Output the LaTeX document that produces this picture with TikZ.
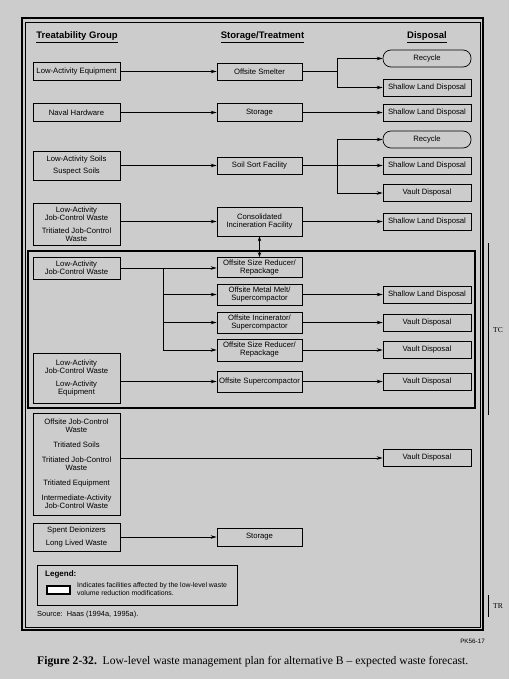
\documentclass[tikz,border=0pt]{standalone}
\usepackage{fontspec}
\usetikzlibrary{arrows.meta}
\newfontfamily\dgfont{Liberation Sans}
\newfontfamily\capfont{Liberation Serif}
\definecolor{paper}{gray}{0.80}
\begin{document}
\begin{tikzpicture}[x=1pt,y=-1pt,
  box/.style={draw=black, line width=0.7pt, inner sep=0pt, align=center,
    font=\dgfont\fontsize{7.7}{8}\selectfont},
  lbox/.style={box, minimum width=87pt},
  mbox/.style={box, minimum width=85pt},
  rbox/.style={box, minimum width=88pt, minimum height=17pt},
  rnd/.style={rbox, rounded corners=8pt},
  hdr/.style={font=\dgfont\bfseries\fontsize{9.5}{10}\selectfont, inner sep=1pt},
  arr/.style={line width=0.7pt, -{Stealth[length=6pt,width=3.5pt]}},
  arrtwo/.style={line width=0.7pt, {Stealth[length=5pt,width=3.5pt]}-{Stealth[length=5pt,width=3.5pt]}},
  ln/.style={line width=0.7pt}
]
\useasboundingbox (0,0) rectangle (509,679);
\fill[paper] (0,0) rectangle (509,679);

% outer frame
\draw[line width=1.3pt] (22,18) rectangle (483,630);
\draw[line width=0.5pt] (25,22) rectangle (480,627);

% change bars
\draw[line width=0.8pt] (488,243) -- (488,415);
\node[font=\capfont\fontsize{7.5}{8}\selectfont, inner sep=0pt] (tc) at (498,330) {TC};
\draw[line width=0.8pt] (488,595) -- (488,617);
\node[font=\capfont\fontsize{7.5}{8}\selectfont, inner sep=0pt] (tr) at (498,606) {TR};

% headers
\node[hdr] (h1) at (77,37) {\underline{Treatability Group}};
\node[hdr] (h2) at (262.5,37) {\underline{Storage/Treatment}};
\node[hdr] (h3) at (427,37) {\underline{Disposal}};

% thick box
\draw[line width=2.2pt] (28,251) rectangle (475,408);

% left column
\node[lbox, minimum height=18pt] (L1) at (76.5,71.5) {Low-Activity Equipment};
\node[lbox, minimum height=18pt] (L2) at (76.5,112.5) {Naval Hardware};
\node[lbox, minimum height=29pt] (L3) at (76.5,165.5) {Low-Activity Soils\\[4pt]Suspect Soils};
\node[lbox, minimum height=42pt] (L4) at (76.5,224) {Low-Activity\\Job-Control Waste\\[5pt]Tritiated Job-Control\\Waste};
\node[lbox, minimum height=22pt] (L5) at (76.5,268) {Low-Activity\\Job-Control Waste};
\node[lbox, minimum height=50pt] (L6) at (76.5,378) {Low-Activity\\Job-Control Waste\\[5pt]Low-Activity\\Equipment};
\node[lbox, minimum height=102pt] (L7) at (76.5,464) {Offsite Job-Control\\Waste\\[7pt]Tritiated Soils\\[7pt]Tritiated Job-Control\\Waste\\[7pt]Tritiated Equipment\\[7pt]Intermediate-Activity\\Job-Control Waste};
\node[lbox, minimum height=28pt] (L8) at (76.5,537) {Spent Deionizers\\[5pt]Long Lived Waste};

% middle column
\node[mbox, minimum height=17pt] (M1) at (259.5,71.5) {Offsite Smelter};
\node[mbox, minimum height=18pt] (M2) at (259.5,112.5) {Storage};
\node[mbox, minimum height=17pt] (M3) at (259.5,165.5) {Soil Sort Facility};
\node[mbox, minimum height=29pt] (M4) at (259.5,221.5) {Consolidated\\Incineration Facility};
\node[mbox, minimum height=20pt] (M5) at (259.5,267.5) {Offsite Size Reducer/\\Repackage};
\node[mbox, minimum height=21pt] (M6) at (259.5,294.5) {Offsite Metal Melt/\\Supercompactor};
\node[mbox, minimum height=21pt] (M7) at (259.5,322.5) {Offsite Incinerator/\\Supercompactor};
\node[mbox, minimum height=22pt] (M8) at (259.5,350) {Offsite Size Reducer/\\Repackage};
\node[mbox, minimum height=21pt] (M9) at (259.5,381.5) {Offsite Supercompactor};
\node[mbox, minimum height=18pt] (M10) at (259.5,537) {Storage};

% right column
\node[rnd] (R1) at (427,58.5) {Recycle};
\node[rbox] (R2) at (427,87.5) {Shallow Land Disposal};
\node[rbox] (R3) at (427,112.5) {Shallow Land Disposal};
\node[rnd] (R4) at (427,139.5) {Recycle};
\node[rbox] (R5) at (427,165.5) {Shallow Land Disposal};
\node[rbox] (R6) at (427,193) {Vault Disposal};
\node[rbox] (R7) at (427,221.5) {Shallow Land Disposal};
\node[rbox] (R8) at (427,294.5) {Shallow Land Disposal};
\node[rbox] (R9) at (427,322.5) {Vault Disposal};
\node[rbox] (R10) at (427,350) {Vault Disposal};
\node[rbox] (R11) at (427,381.5) {Vault Disposal};
\node[rbox] (R12) at (427,458) {Vault Disposal};

% junction coordinates
\coordinate (j1) at (337,71.5);
\coordinate (j2) at (337,165.5);
\coordinate (j3) at (163,268);

% connectors
\draw[arr] (L1.east) -- (M1.west);
\draw[ln] (M1.east) -- (j1);
\draw[arr] (j1) |- (R1.west);
\draw[arr] (j1) |- (R2.west);

\draw[arr] (L2.east) -- (M2.west);
\draw[arr] (M2.east) -- (R3.west);

\draw[arr] (L3.east) -- (M3.west);
\draw[arr] (M3.east) -- (R5.west);
\draw[arr] (j2) |- (R4.west);
\draw[arr] (j2) |- (R6.west);

\draw[arr] (L4.east |- M4.west) -- (M4.west);
\draw[arr] (M4.east) -- (R7.west);
\draw[arrtwo] (M4.south) -- (M5.north);

\draw[arr] (L5.east) -- (L5.east -| M5.west);
\draw[arr] (j3) |- (M6.west);
\draw[arr] (j3) |- (M7.west);
\draw[arr] (j3) |- (M8.west);

\draw[arr] (M6.east) -- (R8.west);
\draw[arr] (M7.east) -- (R9.west);
\draw[arr] (M8.east) -- (R10.west);
\draw[arr] (L6.east |- M9.west) -- (M9.west);
\draw[arr] (M9.east) -- (R11.west);

\draw[arr] (L7.east |- R12.west) -- (R12.west);
\draw[arr] (L8.east) -- (M10.west);

% legend
\draw[line width=0.6pt] (37,565) rectangle (237,605);
\node[anchor=west, inner sep=0pt, font=\dgfont\bfseries\fontsize{8}{8}\selectfont] (lg) at (45,574) {Legend:};
\draw[line width=2.2pt, fill=white] (47,586) rectangle (70,594);
\node[anchor=west, inner sep=0pt, align=left, font=\dgfont\fontsize{6.9}{8.5}\selectfont] (lgt) at (77,589) {Indicates facilities affected by the low-level waste\\volume reduction modifications.};
\node[anchor=west, inner sep=0pt, font=\dgfont\fontsize{7.4}{8}\selectfont] (src) at (37,615) {Source:\ \ Haas (1994a, 1995a).};

\node[anchor=east, inner sep=0pt, font=\dgfont\fontsize{6.3}{7}\selectfont] (pk) at (485,641) {PK56-17};

\node[anchor=west, inner sep=0pt, font=\capfont\fontsize{11.6}{12}\selectfont] (cap) at (37,662) {\textbf{Figure 2-32.}\ \ Low-level waste management plan for alternative B – expected waste forecast.};
\end{tikzpicture}
\end{document}
